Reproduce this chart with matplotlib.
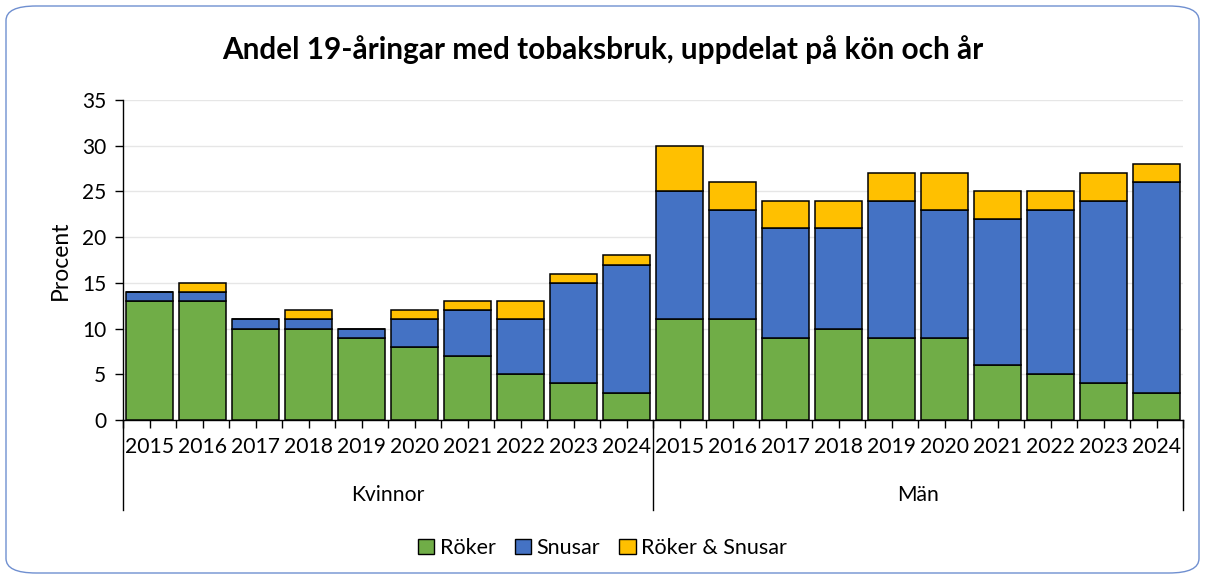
import matplotlib
matplotlib.use("Agg")
import matplotlib.pyplot as plt
from matplotlib.patches import FancyBboxPatch, Patch
from matplotlib.lines import Line2D
import numpy as np

plt.rcParams['font.family'] = ['Lato', 'DejaVu Sans']

years = ["2015", "2016", "2017", "2018", "2019", "2020", "2021", "2022", "2023", "2024"]
groups = ["Kvinnor", "Män"]
roker_k = [13, 13, 10, 10, 9, 8, 7, 5, 4, 3]
snusar_k = [1, 1, 1, 1, 1, 3, 5, 6, 11, 14]
bada_k = [0, 1, 0, 1, 0, 1, 1, 2, 1, 1]
roker_m = [11, 11, 9, 10, 9, 9, 6, 5, 4, 3]
snusar_m = [14, 12, 12, 11, 15, 14, 16, 18, 20, 23]
bada_m = [5, 3, 3, 3, 3, 4, 3, 2, 3, 2]
series_names = ["Röker", "Snusar", "Röker & Snusar"]
colors = ["#70AD47", "#4472C4", "#FFC000"]

roker = np.array(roker_k + roker_m)
snusar = np.array(snusar_k + snusar_m)
bada = np.array(bada_k + bada_m)
labels = years + years
n = len(labels)
x = np.arange(n)

W, H = 1205, 579
fig = plt.figure(figsize=(W / 100, H / 100), dpi=100)

# rounded border
border = FancyBboxPatch((6 / W, 6 / H), 1 - 12 / W, 1 - 12 / H,
                        boxstyle="round,pad=0,rounding_size=0.025",
                        transform=fig.transFigure, facecolor="white",
                        edgecolor="#6F8FD0", linewidth=1.0, zorder=-10)
fig.patches.append(border)

ax_l, ax_r, ax_t, ax_b = 123, 1183, 100, 420
ax = fig.add_axes([ax_l / W, 1 - ax_b / H, (ax_r - ax_l) / W, (ax_b - ax_t) / H])
ax.set_facecolor("none")
ax.set_zorder(5)

bw = 0.87
ek = dict(edgecolor="black", linewidth=1.1, width=bw, zorder=3)
ax.bar(x, roker, color=colors[0], **ek)
ax.bar(x, snusar, bottom=roker, color=colors[1], **ek)
ax.bar(x, bada, bottom=roker + snusar, color=colors[2], **ek)

ax.set_xlim(-0.5, n - 0.5)
ax.set_ylim(0, 35)
ax.set_yticks(np.arange(0, 36, 5))
ax.yaxis.grid(True, color="#E6E6E6", linewidth=1.0, zorder=0)
ax.set_axisbelow(True)
for s in ["top", "right"]:
    ax.spines[s].set_visible(False)
ax.spines["left"].set_color("black")
ax.spines["bottom"].set_color("black")
ax.spines["left"].set_linewidth(1.0)
ax.spines["bottom"].set_linewidth(1.0)
ax.tick_params(axis="y", labelsize=15, length=6, width=1.0, direction="out", pad=6)
ax.set_ylabel("Procent", fontsize=16.5, labelpad=8)

# x ticks every half slot
ax.set_xticks(np.arange(-0.5, n, 0.5))
ax.set_xticklabels([])
ax.tick_params(axis="x", length=6, width=1.0, direction="out")

trans = ax.get_xaxis_transform()
for i, lab in enumerate(labels):
    ax.text(x[i], -0.085, lab, transform=trans, ha="center", va="center",
            fontsize=15.2, clip_on=False)
for gi, g in enumerate(groups):
    ax.text(gi * 10 + 4.5, -0.235, g, transform=trans, ha="center", va="center",
            fontsize=15.2, clip_on=False)
for xb in [-0.5, 9.5, 19.5]:
    ax.add_line(Line2D([xb, xb], [0, -0.28], transform=trans, color="black",
                       linewidth=1.0, clip_on=False))

fig.text(0.5, 1 - 50 / H, "Andel 19-åringar med tobaksbruk, uppdelat på kön och år",
         ha="center", va="center", fontsize=21.4, fontweight="bold")

handles = [Patch(facecolor=c, edgecolor="black", linewidth=1.0) for c in colors]
fig.legend(handles, series_names, loc="center", bbox_to_anchor=(0.5, 1 - 548 / H),
           ncol=3, frameon=False, fontsize=15.5, handlelength=0.75, handleheight=0.75,
           handletextpad=0.25, columnspacing=0.9)

fig.savefig("out.png", dpi=100)
